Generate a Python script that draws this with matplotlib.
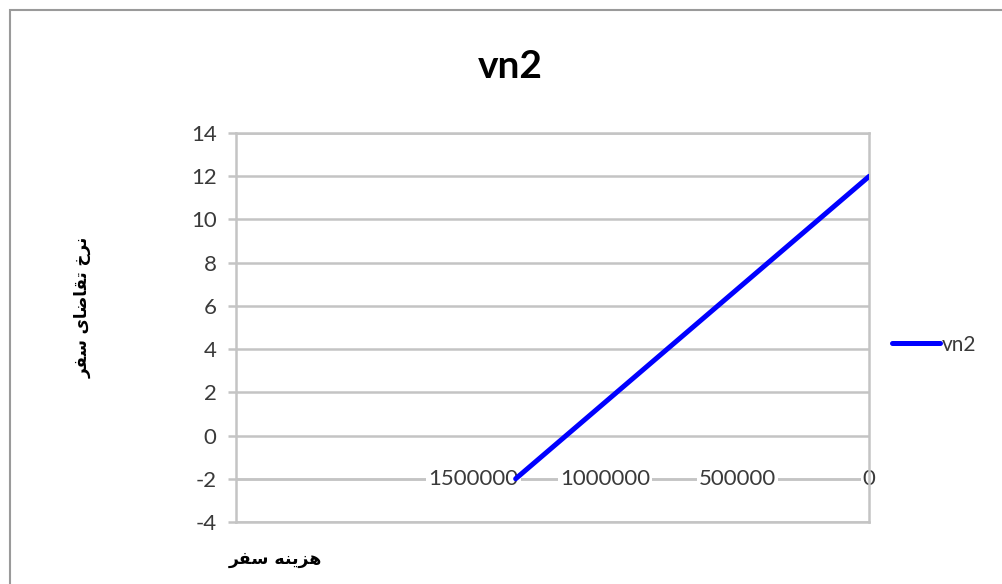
import matplotlib
matplotlib.use("Agg")
import matplotlib.pyplot as plt
from matplotlib.patches import Rectangle

# data
cost = [0, 335000, 670000, 1005000, 1340000]
rate = [12, 8.5, 5, 1.5, -2]
x_ticks = [0, 500000, 1000000, 1500000]
y_ticks = [-4, -2, 0, 2, 4, 6, 8, 10, 12, 14]
series_name = "vn2"
title = "vn2"
# Persian labels, pre-shaped (presentation forms, visual order)
ylabel = "ﺮﻔﺳ ﻯﺎﺿﺎﻘﺗ ﺥﺮﻧ"   # نرخ تقاضای سفر
xlabel = "ﺮﻔﺳ ﻪﻨﻳﺰﻫ"        # هزینه سفر

plt.rcParams['font.family'] = ['Lato', 'DejaVu Sans']
GRID = "#c4c4c4"
TXT = "#3a3a3a"

fig = plt.figure(figsize=(10.02, 5.84), dpi=100)
fig.patches.append(Rectangle((10 / 1002, -0.1), 1.2, 1 - 10 / 584 + 0.1,
                             transform=fig.transFigure, fill=False,
                             edgecolor="#9a9a9a", linewidth=1.5))

ax = fig.add_axes([0.2355, 0.1062, 0.632, 0.666])
ax.set_xlim(2400000, 0)
ax.set_ylim(-4, 14)
ax.set_yticks(y_ticks)
ax.set_yticklabels([str(v) for v in y_ticks], fontsize=16, color=TXT)
ax.set_xticks([])
ax.grid(axis="y", color=GRID, linewidth=1.8)
ax.set_axisbelow(True)
for s in ax.spines.values():
    s.set_color(GRID)
    s.set_linewidth(1.8)
ax.tick_params(axis="y", length=6, width=1.8, color=GRID, pad=8)

# x axis crosses at y=-2
ax.axhline(-2, color=GRID, linewidth=1.8, zorder=1)
for v in x_ticks:
    ax.text(v, -2, str(v), ha="center", va="center", fontsize=16, color=TXT,
            bbox=dict(facecolor="white", edgecolor="none", pad=1.5), zorder=2)

ax.plot(cost, rate, color="#0000ff", linewidth=3.6, label=series_name,
        solid_capstyle="round", zorder=3)

fig.text(0.509, 0.886, title, ha="center", va="center", fontsize=28,
         fontweight="bold", color="black")
fig.text(0.082, 0.474, ylabel, rotation=90, ha="center", va="center",
         fontsize=12, fontweight="bold", family=["DejaVu Sans"])
fig.text(0.275, 0.043, xlabel, ha="center", va="center",
         fontsize=12.5, fontweight="bold", family=["DejaVu Sans"])

leg = ax.legend(loc="center left", bbox_to_anchor=(0.882, 0.41),
                bbox_transform=fig.transFigure, frameon=False, fontsize=15,
                handlelength=2.3, handletextpad=0.1, borderaxespad=0)
for t in leg.get_texts():
    t.set_color(TXT)

fig.savefig("out.png", dpi=100)
